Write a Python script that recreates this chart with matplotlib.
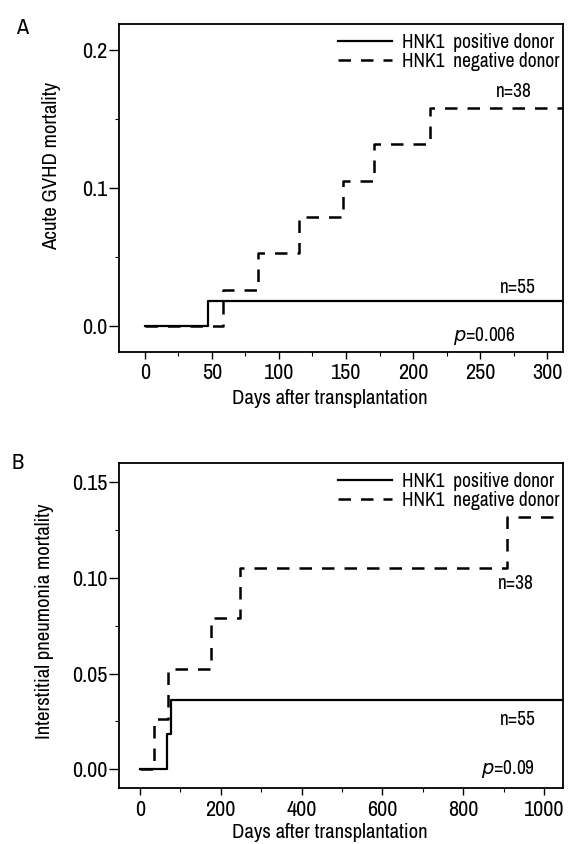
import matplotlib
matplotlib.use("Agg")
import matplotlib.pyplot as plt
from matplotlib.ticker import MultipleLocator

plt.rcParams['font.family'] = ['Archivo Narrow', 'DejaVu Sans']

# Panel A data
A_pos_days = [0, 47, 315]
A_pos_mort = [0, 0.0182, 0.0182]
A_neg_days = [0, 58, 84, 115, 148, 171, 213, 315]
A_neg_mort = [0, 0.0263, 0.0526, 0.0789, 0.1053, 0.1316, 0.1579, 0.1579]

# Panel B data
B_pos_days = [0, 66, 76, 1050]
B_pos_mort = [0, 0.0182, 0.0364, 0.0364]
B_neg_days = [0, 36, 69, 177, 247, 909, 1050]
B_neg_mort = [0, 0.0263, 0.0526, 0.0789, 0.1053, 0.1316, 0.1316]

labels = ["HNK1  positive donor", "HNK1  negative donor"]

fig = plt.figure(figsize=(5.69, 8.44), dpi=100)
axA = fig.add_axes([0.2091, 0.5829, 0.7803, 0.3886])
axB = fig.add_axes([0.2091, 0.0658, 0.7803, 0.3857])

FS = 14

def style(ax):
    for s in ax.spines.values():
        s.set_linewidth(1.3)
    ax.tick_params(axis='y', which='major', direction='out', length=7, width=1.0, labelsize=16, pad=1.5)
    ax.tick_params(axis='x', which='major', direction='out', length=5, width=1.0, labelsize=16, pad=3)
    ax.tick_params(which='minor', direction='out', length=3, width=0.8)

def legend(ax):
    h, l = ax.get_legend_handles_labels()
    ax.legend([h[1], h[0]], [l[1], l[0]], loc='upper right', frameon=False,
              prop={'size': FS},
              handlelength=2.8, borderaxespad=0.05, labelspacing=0.0, handletextpad=0.5,
              bbox_to_anchor=(1.012, 1.0))

# Panel A
axA.plot(A_neg_days, A_neg_mort, drawstyle='steps-post', color='black', lw=1.8, ls=(0, (5, 4)), label=labels[1])
axA.plot(A_pos_days, A_pos_mort, drawstyle='steps-post', color='black', lw=1.6, label=labels[0])
axA.set_xlim(-19.4, 311.9)
axA.set_ylim(-0.019, 0.219)
axA.set_xticks([0, 50, 100, 150, 200, 250, 300])
axA.xaxis.set_minor_locator(MultipleLocator(25))
axA.set_yticks([0.0, 0.1, 0.2])
axA.set_yticklabels(['0.0', '0.1', '0.2'])
axA.yaxis.set_minor_locator(MultipleLocator(0.05))
style(axA)
axA.set_xlabel('Days after transplantation', fontsize=15)
axA.xaxis.set_label_coords(0.475, -0.112)
axA.set_ylabel('Acute GVHD mortality', fontsize=15)
axA.yaxis.set_label_coords(-0.13, 0.566)
axA.text(275, 0.170, 'n=38', fontsize=FS, ha='center', va='center')
axA.text(278, 0.028, 'n=55', fontsize=FS, ha='center', va='center')
axA.text(253, -0.0075, r'$\mathit{p}$=0.006', fontsize=FS, ha='center', va='center')
legend(axA)
fig.text(0.028, 0.979, 'A', fontsize=16, fontweight='bold', va='top')

# Panel B
axB.plot(B_neg_days, B_neg_mort, drawstyle='steps-post', color='black', lw=1.8, ls=(0, (5, 4)), label=labels[1])
axB.plot(B_pos_days, B_pos_mort, drawstyle='steps-post', color='black', lw=1.6, label=labels[0])
axB.set_xlim(-51.8, 1046.4)
axB.set_ylim(-0.010, 0.160)
axB.set_xticks([0, 200, 400, 600, 800, 1000])
axB.xaxis.set_minor_locator(MultipleLocator(100))
axB.set_yticks([0.0, 0.05, 0.10, 0.15])
axB.set_yticklabels(['0.00', '0.05', '0.10', '0.15'])
axB.yaxis.set_minor_locator(MultipleLocator(0.025))
style(axB)
axB.set_xlabel('Days after transplantation', fontsize=15)
axB.xaxis.set_label_coords(0.475, -0.106)
axB.set_ylabel('Interstitial pneumonia mortality', fontsize=15)
axB.yaxis.set_label_coords(-0.146, 0.515)
axB.text(929, 0.0968, 'n=38', fontsize=FS, ha='center', va='center')
axB.text(934, 0.026, 'n=55', fontsize=FS, ha='center', va='center')
axB.text(910, 0.0, r'$\mathit{p}$=0.09', fontsize=FS, ha='center', va='center')
legend(axB)
fig.text(0.02, 0.463, 'B', fontsize=16, va='top')

fig.savefig('out.png', dpi=100)
